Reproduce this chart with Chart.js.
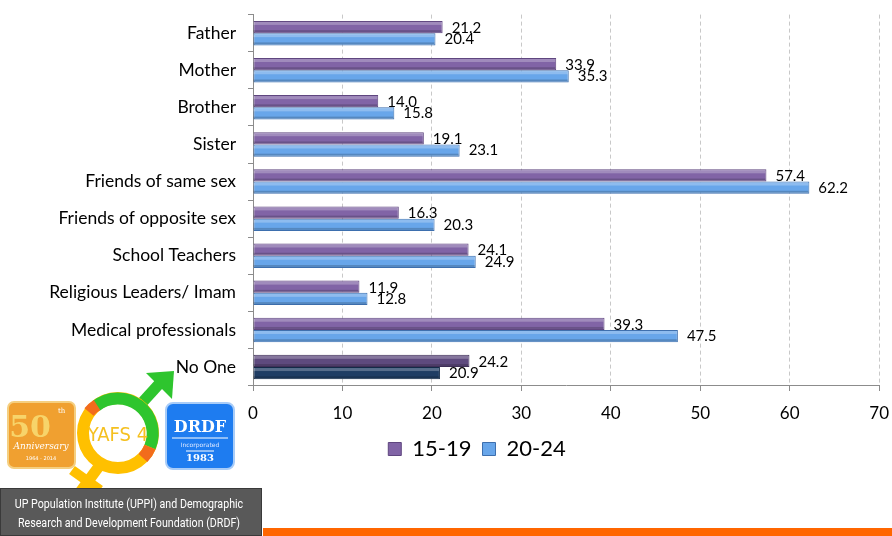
<!DOCTYPE html>
<html>
<head>
<meta charset="utf-8">
<script src="https://cdn.jsdelivr.net/npm/chart.js@4.4.1/dist/chart.umd.min.js"></script>
<style>
  html, body { margin: 0; padding: 0; background: #fff; }
  body { width: 892px; height: 536px; position: relative; overflow: hidden; font-family: Lato, sans-serif; }
  #wrap { position: absolute; left: 0; top: 0; width: 892px; height: 470px; }
  #logos { position: absolute; left: 0; top: 365px; }
  #credit {
    position: absolute; left: 0; top: 488px; width: 262px; height: 48px;
    background: #595959; border: 1px solid #3a3a3a; color: #fff;
    font: 13px Roboto, sans-serif;
    line-height: 18.5px; padding-top: 6px; box-sizing: border-box;
    white-space: nowrap;
  }
  #credit span { display: block; width: 320px; margin-left: -32px; text-align: center; transform: scaleX(0.82); transform-origin: center; }
  #orange { position: absolute; left: 263px; top: 528px; width: 629px; height: 8px; background: #ff6600; }
</style>
</head>
<body>
<div id="wrap"><canvas id="myChart"></canvas></div>

<svg id="logos" width="270" height="125" xmlns="http://www.w3.org/2000/svg">
  <!-- 50th anniversary -->
  <rect x="8" y="37" width="67" height="66" rx="6" fill="#f0a030" stroke="#f5cf80" stroke-width="2"/>
  <text x="30" y="72" font-family="DejaVu Serif" font-size="30" font-weight="bold" fill="#f7d46a" text-anchor="middle">50</text>
  <text x="58" y="48" font-family="DejaVu Serif" font-size="7" fill="#fff">th</text>
  <text x="41" y="84" font-family="DejaVu Serif" font-size="9" font-style="italic" fill="#fff" text-anchor="middle">Anniversary</text>
  <text x="41" y="95" font-family="DejaVu Sans" font-size="5" fill="#fff" text-anchor="middle">1964 - 2014</text>
  <!-- yellow cross -->
  <line x1="100" y1="100" x2="78" y2="130" stroke="#ffc000" stroke-width="11"/>
  <line x1="72" y1="105" x2="100" y2="125" stroke="#ffc000" stroke-width="10"/>
  <!-- green arrow -->
  <line x1="140" y1="40" x2="160" y2="18" stroke="#2ec52e" stroke-width="11"/>
  <polygon points="146,8 174,6 172,34" fill="#2ec52e"/>
  <!-- ring -->
  <circle cx="118" cy="68" r="35" fill="none" stroke="#ffc000" stroke-width="12"/>
  <path d="M 96 41 A 35 35 0 0 1 150 82" fill="none" stroke="#2ec52e" stroke-width="12"/>
  <path d="M 89 47 A 35 35 0 0 1 97 40" fill="none" stroke="#f26c1c" stroke-width="12"/>
  <path d="M 150 82 A 35 35 0 0 1 143 93" fill="none" stroke="#f26c1c" stroke-width="12"/>
  <text x="118" y="76" font-family="DejaVu Sans Condensed" font-size="20" fill="#f5c020" text-anchor="middle">YAFS 4</text>
  <!-- DRDF -->
  <rect x="166" y="38" width="68" height="66" rx="7" fill="#1e7cf0" stroke="#a8ccf8" stroke-width="2"/>
  <text x="200" y="67" font-family="DejaVu Serif" font-size="16" font-weight="bold" fill="#fff" text-anchor="middle">DRDF</text>
  <line x1="172" y1="73" x2="228" y2="73" stroke="#fff" stroke-width="1"/>
  <text x="200" y="82" font-family="DejaVu Sans" font-size="6" fill="#dfe9ff" text-anchor="middle">Incorporated</text>
  <text x="200" y="96" font-family="DejaVu Serif" font-size="10" font-weight="bold" fill="#fff" text-anchor="middle">1983</text>
  <line x1="186" y1="86" x2="214" y2="86" stroke="#fff" stroke-width="1"/>
</svg>

<div id="credit"><span>UP Population Institute (UPPI) and Demographic</span><span>Research and Development Foundation (DRDF)</span></div>
<div id="orange"></div>

<script>
// data
const categories = ['Father', 'Mother', 'Brother', 'Sister', 'Friends of same sex',
  'Friends of opposite sex', 'School Teachers', 'Religious Leaders/ Imam',
  'Medical professionals', 'No One']
const age15to19 = [21.2, 33.9, 14.0, 19.1, 57.4, 16.3, 24.1, 11.9, 39.3, 24.2]
const age20to24 = [20.4, 35.3, 15.8, 23.1, 62.2, 20.3, 24.9, 12.8, 47.5, 20.9]
const xTicks = [0, 10, 20, 30, 40, 50, 60, 70]

// the "No One" row is drawn in a darker shade
const lastIdx = categories.length - 1
const purple = categories.map((c, i) => i === lastIdx ? '#5e4a7e' : '#8164a6')
const purpleEdge = categories.map((c, i) => i === lastIdx ? '#3f3058' : '#5f467f')
const blue = categories.map((c, i) => i === lastIdx ? '#1f3d64' : '#68a6ea')
const blueEdge = categories.map((c, i) => i === lastIdx ? '#132a48' : '#3d6fae')

/**
 * Relief sur les barres + étiquettes de valeurs.
 */
const barExtras = {
  id: 'barExtras',
  afterLayout(chart) {
    // légende un peu décalée vers la droite, comme dans l'original
    chart.legend.left += 11
    chart.legend.right += 11
  },
  afterDatasetsDraw(chart) {
    const ctx = chart.ctx
    ctx.save()
    chart.data.datasets.forEach((ds, i) => {
      const meta = chart.getDatasetMeta(i)
      meta.data.forEach((bar) => {
        const { x, y, base, height } = bar.getProps(['x', 'y', 'base', 'height'], true)
        const top = y - height / 2
        ctx.fillStyle = 'rgba(255,255,255,0.25)'
        ctx.fillRect(base, top + 1, x - base - 1, 3)
        ctx.fillStyle = 'rgba(0,0,0,0.18)'
        ctx.fillRect(base, top + height - 3, x - base - 1, 2)
      })
    })
    ctx.font = '15px Lato'
    ctx.fillStyle = '#000'
    ctx.textBaseline = 'middle'
    ctx.textAlign = 'left'
    chart.data.datasets.forEach((ds, i) => {
      const meta = chart.getDatasetMeta(i)
      meta.data.forEach((bar, j) => {
        const dy = i === 0 ? 1 : 0
        ctx.fillText(ds.data[j].toFixed(1), bar.x + 9, bar.y + dy)
      })
    })
    ctx.restore()
  },
}

const chart = new Chart(document.querySelector('#myChart'), {
  type: 'bar',
  data: {
    labels: categories,
    datasets: [
      {
        label: '15-19',
        data: age15to19,
        backgroundColor: purple,
        borderColor: purpleEdge,
        borderWidth: 1,
        borderSkipped: false,
        categoryPercentage: 0.66,
        barPercentage: 1,
      },
      {
        label: '20-24',
        data: age20to24,
        backgroundColor: blue,
        borderColor: blueEdge,
        borderWidth: 1,
        borderSkipped: false,
        categoryPercentage: 0.66,
        barPercentage: 1,
      },
    ],
  },
  options: {
    indexAxis: 'y',
    responsive: true,
    maintainAspectRatio: false,
    animation: false,
    layout: { padding: { top: 14.6, left: 44, right: 4, bottom: 0 } },
    plugins: {
      tooltip: { enabled: false },
      legend: {
        position: 'bottom',
        labels: {
          font: { family: 'Lato', size: 22 },
          color: '#000',
          boxWidth: 13,
          boxHeight: 13,
          padding: 11,
        },
      },
    },
    scales: {
      x: {
        min: 0,
        max: 70,
        afterBuildTicks: (scale) => { scale.ticks = xTicks.map((v) => ({ value: v })) },
        ticks: {
          font: { family: 'Lato', size: 17 },
          color: '#000',
          padding: 3,
        },
        grid: {
          color: '#c8c8c8',
          tickColor: '#8c8c8c',
          tickLength: 15,
          // only the first 5px of each tick mark is visible
          tickBorderDash: [5, 100],
        },
        border: { color: '#8c8c8c', dash: [4, 3] },
      },
      y: {
        afterFit: (scale) => { scale.width = 209 },
        ticks: {
          font: { family: 'Lato', size: 17.5, lineHeight: 0.2 },
          color: '#000',
          padding: 12,
        },
        grid: {
          drawOnChartArea: false,
          color: '#8c8c8c',
          tickLength: 5,
        },
        border: { color: '#8c8c8c' },
      },
    },
  },
  plugins: [barExtras],
})
</script>
</body>
</html>
